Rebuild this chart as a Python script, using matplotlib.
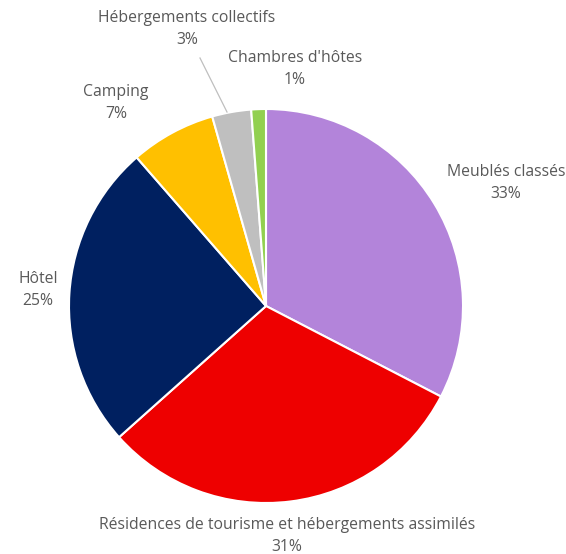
import matplotlib.pyplot as plt

categories = ['Meublés classés', 'Résidences de tourisme et hébergements assimilés',
              'Hôtel', 'Camping', 'Hébergements collectifs', "Chambres d'hôtes"]
shares = [32.6, 30.8, 25.2, 7.0, 3.2, 1.2]
colors = ['#B384DA', '#EE0000', '#002060', '#FFC000', '#BFBFBF', '#92D050']

# label centres in pixels (x from left, y from top)
label_pos = [(506, 183), (287, 536), (38, 290), (116, 103), (187, 29), (295, 69)]

W, H = 566, 554
fig = plt.figure(figsize=(W / 100, H / 100), dpi=100)
ax = fig.add_axes([0, 0, 1, 1])
ax.set_xlim(0, W)
ax.set_ylim(0, H)
ax.set_aspect('equal')
ax.axis('off')

wedges, _ = ax.pie(shares, colors=colors, startangle=90, counterclock=False,
                   center=(266, H - 306), radius=197,
                   wedgeprops=dict(edgecolor='white', linewidth=1.5))
ax.set_xlim(0, W)
ax.set_ylim(0, H)

for name, val, (x, y) in zip(categories, shares, label_pos):
    ax.text(x, H - y, f'{name}\n{round(val)}%', ha='center', va='center',
            fontsize=11.3, family='Open Sans', color='#595959', linespacing=1.42)

# leader line for the small grey slice
ax.plot([200, 227], [H - 58, H - 112], color='#BFBFBF', linewidth=0.9)

fig.savefig('out.png', dpi=100)
